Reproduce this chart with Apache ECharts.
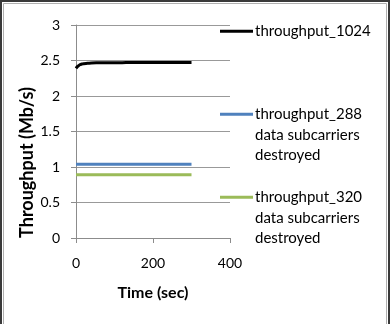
<!DOCTYPE html>
<html>
<head>
<meta charset="utf-8">
<script src="https://cdn.jsdelivr.net/npm/echarts@6/dist/echarts.min.js"></script>
<style>
html,body{margin:0;padding:0;background:#fff;}
#main{width:392px;height:324px;}
</style>
</head>
<body>
<div id="main"></div>
<script>
// time (sec) samples
var times = [0, 5, 10, 15, 20, 30, 40, 60, 80, 100, 120, 140, 160, 180, 200, 220, 240, 260, 280, 300];
var thr1024 = [2.39, 2.42, 2.44, 2.45, 2.455, 2.46, 2.465, 2.468, 2.47, 2.47, 2.47, 2.472, 2.472, 2.472, 2.473, 2.473, 2.473, 2.473, 2.473, 2.473];
var thr288 = [1.04, 1.04, 1.04, 1.04, 1.04, 1.04, 1.04, 1.04, 1.04, 1.04, 1.04, 1.04, 1.04, 1.04, 1.04, 1.04, 1.04, 1.04, 1.04, 1.04];
var thr320 = [0.89, 0.89, 0.89, 0.89, 0.89, 0.89, 0.89, 0.89, 0.89, 0.89, 0.89, 0.89, 0.89, 0.89, 0.89, 0.89, 0.89, 0.89, 0.89, 0.89];
var seriesNames = ['throughput_1024', 'throughput_288\ndata subcarriers\ndestroyed', 'throughput_320\ndata subcarriers\ndestroyed'];
var colors = ['#000000', '#4F81BD', '#9BBB59'];
var legendTops = [21, 63, 146];

function pairs(ys){
    return times.map(function(t, i){ return [t, ys[i]]; });
}

var font = 'Lato, "Open Sans", sans-serif';
var LH = 20.5;

// one legend per item; blank lines on top keep the line beside the first text line
var legends = seriesNames.map(function(name, i){
    return {
        orient: 'vertical', left: 220, top: legendTops[i], padding: 0,
        itemWidth: 33, itemHeight: 3, icon: 'rect',
        textStyle: {fontSize: 15, color: '#000', lineHeight: LH, fontFamily: font, padding: [0, 0, 0, -3]},
        formatter: function(n){
            var extra = n.split('\n').length - 1;
            return new Array(extra + 1).join('\n') + n;
        },
        data: [name]
    };
});

var myChart = echarts.init(document.getElementById('main'));
myChart.setOption({
    animation: false,
    textStyle: {fontFamily: font, color: '#404040'},
    grid: {left: 76, top: 25, width: 154, height: 213},
    graphic: [
        {type: 'rect', shape: {x: 1, y: 1, width: 388, height: 340}, style: {fill: 'none', stroke: '#3a3a3a', lineWidth: 2}},
        {type: 'rect', shape: {x: 3.5, y: 3.5, width: 383, height: 340}, style: {fill: 'none', stroke: '#b0b0b0', lineWidth: 1}}
    ],
    xAxis: {
        type: 'value', min: 0, max: 400, interval: 200,
        name: 'Time (sec)', nameLocation: 'middle', nameGap: 47,
        nameTextStyle: {fontSize: 16, fontWeight: 'bold', color: '#000', fontFamily: font},
        axisLine: {show: true, onZero: false, lineStyle: {color: '#8c8c8c'}},
        axisTick: {show: true, length: 5, inside: false, lineStyle: {color: '#8c8c8c'}},
        axisLabel: {fontSize: 14, color: '#000', margin: 18, fontFamily: font},
        splitLine: {show: false}
    },
    yAxis: {
        type: 'value', min: 0, max: 3, interval: 0.5,
        name: 'Throughput (Mb/s)', nameLocation: 'middle', nameGap: 31,
        nameTextStyle: {fontSize: 18, fontWeight: 'bold', color: '#000', fontFamily: font, padding: [0, 62, 0, 0]},
        axisLine: {show: true, lineStyle: {color: '#8c8c8c'}},
        axisTick: {show: true, length: 5, inside: false, lineStyle: {color: '#8c8c8c'}},
        axisLabel: {fontSize: 14, color: '#000', margin: 16, fontFamily: font},
        splitLine: {show: true, lineStyle: {color: '#999999', width: 1}}
    },
    legend: legends,
    series: [
        {name: seriesNames[0], type: 'line', data: pairs(thr1024), smooth: true, showSymbol: false, lineStyle: {width: 3, color: colors[0]}, itemStyle: {color: colors[0]}},
        {name: seriesNames[1], type: 'line', data: pairs(thr288), showSymbol: false, lineStyle: {width: 3, color: colors[1]}, itemStyle: {color: colors[1]}},
        {name: seriesNames[2], type: 'line', data: pairs(thr320), showSymbol: false, lineStyle: {width: 3, color: colors[2]}, itemStyle: {color: colors[2]}}
    ]
});
</script>
</body>
</html>
